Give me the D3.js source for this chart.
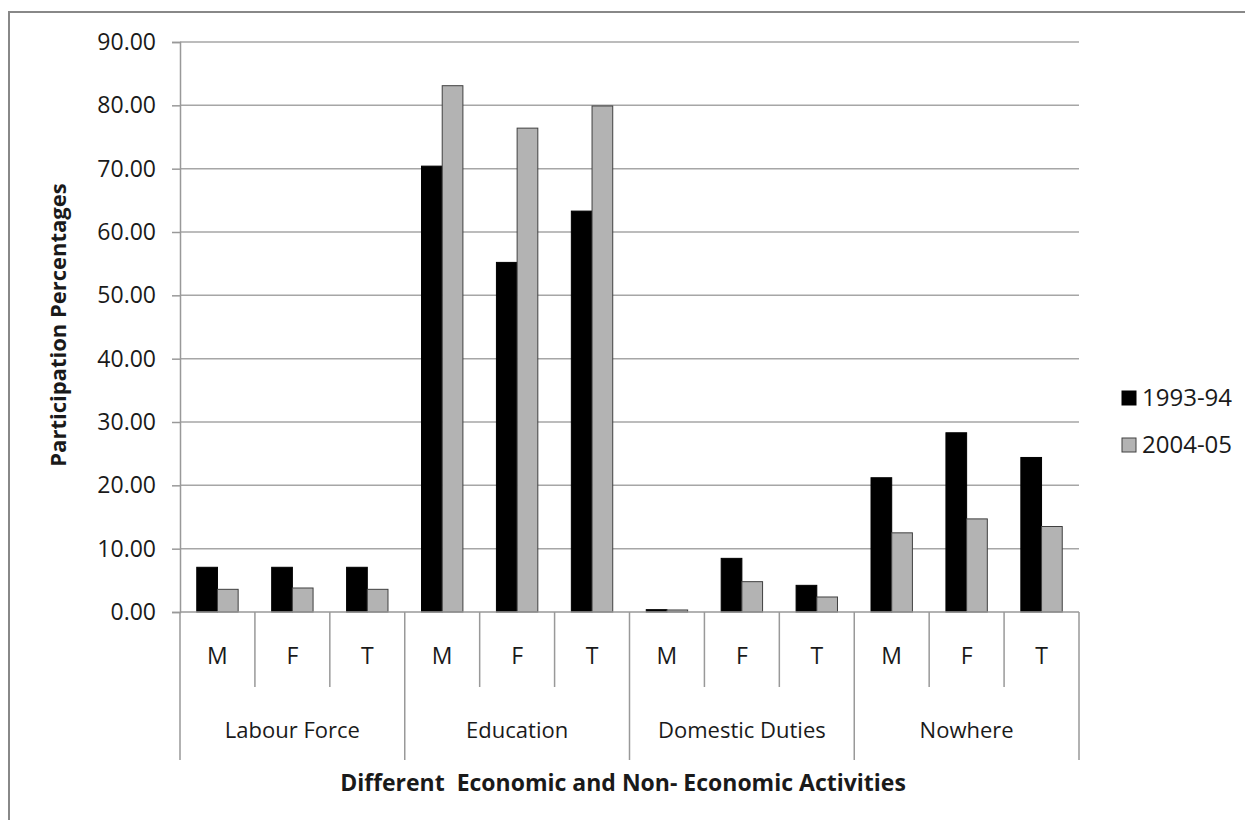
<!DOCTYPE html>
<html lang="en">
<head>
<meta charset="UTF-8" />
<title>Participation</title>
<style>
  body { margin: 0; background: #fff; }
  text { font-family: "Open Sans", sans-serif; fill: #1a1a1a; }
</style>
</head>
<body>
<svg width="1245" height="820" id="svg"></svg>
<script src="https://cdn.jsdelivr.net/npm/d3@7"></script>
<script>
const groups = ["Labour Force", "Education", "Domestic Duties", "Nowhere"]
const sexes = ["M", "F", "T"]
const series = ["1993-94", "2004-05"]
const v1993 = [7.06, 7.06, 7.06, 70.4, 55.2, 63.3, 0.37, 8.47, 4.21, 21.2, 28.3, 24.4]
const v2004 = [3.58, 3.79, 3.58, 83.1, 76.4, 79.9, 0.32, 4.79, 2.37, 12.5, 14.7, 13.5]
const yTicks = [0, 10, 20, 30, 40, 50, 60, 70, 80, 90]
const colors = ["#000000", "#b3b3b3"]

const svg = d3.select("#svg")
const margin = { top: 42, left: 180, right: 166, bottom: 208 }
const width = +svg.attr("width")
const height = +svg.attr("height")
const innerW = width - margin.left - margin.right
const innerH = height - margin.top - margin.bottom

// outer chart frame (only top and left edges are in view)
svg.append("path")
  .attr("d", "M9,820 V12 H1245")
  .attr("fill", "none")
  .attr("stroke", "#888")
  .attr("stroke-width", 2)

const g = svg.append("g").attr("transform", `translate(${margin.left},${margin.top})`)

const cats = []
groups.forEach((gr, gi) => sexes.forEach((s, si) => cats.push({ id: gi * 3 + si, group: gr, sex: s })))

const x0 = d3.scaleBand().domain(cats.map(d => d.id)).range([0, innerW]).paddingInner(0).paddingOuter(0)
const x1 = d3.scaleBand().domain(series).range([0, x0.bandwidth()]).paddingInner(0).paddingOuter(0.81)
const y = d3.scaleLinear().domain([0, 90]).range([innerH, 0])

// gridlines
g.append("g")
  .selectAll("line")
  .data(yTicks.slice(1))
  .join("line")
  .attr("x1", 0).attr("x2", innerW)
  .attr("y1", d => y(d)).attr("y2", d => y(d))
  .attr("stroke", "#a6a6a6")
  .attr("stroke-width", 1.5)

// y axis
const yAxis = g.append("g")
  .call(d3.axisLeft(y).tickValues(yTicks).tickFormat(d3.format(".2f")).tickSize(8).tickPadding(16))
yAxis.selectAll("path, line").attr("stroke", "#999").attr("stroke-width", 1.5)
yAxis.selectAll("text").attr("font-size", 23).attr("font-family", "Open Sans").attr("fill", "#1a1a1a")

// bars
const rows = cats.map((c, i) => ({ id: c.id, vals: [v1993[i], v2004[i]] }))
g.append("g")
  .selectAll("g")
  .data(rows)
  .join("g")
  .attr("transform", d => `translate(${x0(d.id)},0)`)
  .selectAll("rect")
  .data(d => d.vals.map((v, k) => ({ key: series[k], v, k })))
  .join("rect")
  .attr("x", d => x1(d.key))
  .attr("width", x1.bandwidth())
  .attr("y", d => y(d.v))
  .attr("height", d => innerH - y(d.v))
  .attr("fill", d => colors[d.k])
  .attr("stroke", d => d.k ? "#404040" : "#000")
  .attr("stroke-width", 1)

// x axis line and category dividers
const xa = g.append("g").attr("transform", `translate(0,${innerH})`)
xa.append("line").attr("x1", 0).attr("x2", innerW).attr("stroke", "#999").attr("stroke-width", 1.5)
xa.selectAll("line.div")
  .data(d3.range(cats.length + 1))
  .join("line")
  .attr("class", "div")
  .attr("x1", i => i * x0.step()).attr("x2", i => i * x0.step())
  .attr("y1", 0)
  .attr("y2", i => i % 3 === 0 ? 148 : 75)
  .attr("stroke", "#999")
  .attr("stroke-width", 1.5)

xa.selectAll("text.sex")
  .data(cats)
  .join("text")
  .attr("class", "sex")
  .attr("x", d => x0(d.id) + x0.bandwidth() / 2)
  .attr("y", 52)
  .attr("text-anchor", "middle")
  .attr("font-size", 23)
  .text(d => d.sex)

xa.selectAll("text.grp")
  .data(groups)
  .join("text")
  .attr("class", "grp")
  .attr("x", (d, i) => (i * 3 + 1.5) * x0.step())
  .attr("y", 126)
  .attr("text-anchor", "middle")
  .attr("font-size", 22)
  .text(d => d)

// axis titles
svg.append("text")
  .attr("x", 623)
  .attr("y", 791)
  .attr("text-anchor", "middle")
  .attr("font-size", 23)
  .attr("font-weight", "bold")
  .attr("xml:space", "preserve")
  .style("white-space", "pre")
  .text("Different  Economic and Non- Economic Activities")

svg.append("text")
  .attr("transform", "translate(66,325) rotate(-90)")
  .attr("text-anchor", "middle")
  .attr("font-size", 22)
  .attr("font-weight", "bold")
  .text("Participation Percentages")

// legend
const leg = svg.append("g").attr("transform", "translate(1122,391)")
const li = leg.selectAll("g").data(series).join("g").attr("transform", (d, i) => `translate(0,${i * 47})`)
li.append("rect")
  .attr("width", 14).attr("height", 14)
  .attr("fill", (d, i) => colors[i])
  .attr("stroke", (d, i) => i ? "#404040" : "#000")
li.append("text")
  .attr("x", 20).attr("y", 7)
  .attr("dy", "0.35em")
  .attr("font-size", 24)
  .text(d => d)
</script>
</body>
</html>
